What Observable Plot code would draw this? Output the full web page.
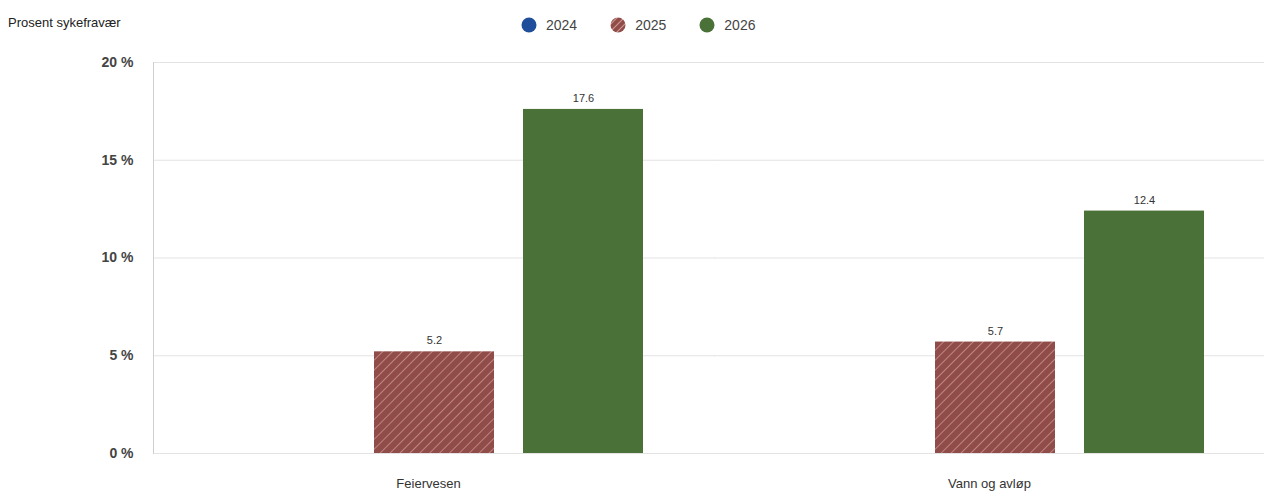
<!DOCTYPE html>
<html>
<head>
<meta charset="utf-8">
<script src="https://cdn.jsdelivr.net/npm/d3@7"></script>
<script src="https://cdn.jsdelivr.net/npm/@observablehq/plot@0.6"></script>
<style>
  html, body { margin: 0; padding: 0; background: #fff; }
  body { font-family: "Liberation Sans", Arial, sans-serif; }
  #wrap { position: relative; width: 1264px; height: 491px; }
  #title { position: absolute; left: 8px; top: 15px; font-size: 13px; color: #222; }
  #legend { position: absolute; left: 521px; top: 17px; display: flex; gap: 0; font-size: 14px; color: #444; }
  .item { display: flex; align-items: center; margin-right: 33px; }
  .item svg { margin-right: 9px; }
</style>
</head>
<body>
<div id="wrap">
  <div id="title">Prosent sykefravær</div>
  <div id="legend"></div>
  <div id="chart"></div>
</div>
<script>
const categories = ["Feiervesen", "Vann og avløp"];
const years = ["2024", "2025", "2026"];
const values2024 = [null, null];
const values2025 = [5.2, 5.7];
const values2026 = [17.6, 12.4];
const yTicks = [0, 5, 10, 15, 20];
const colors = ["#1f4e9a", "url(#hatch2025)", "#4a7138"];

const series = [values2024, values2025, values2026];
const data = [];
categories.forEach((c, i) => years.forEach((y, j) => data.push({category: c, year: y, value: series[j][i]})));
const bars = data.filter(d => d.value != null);

const chart = Plot.plot({
  width: 1264, height: 491,
  marginLeft: 152, marginRight: 0, marginTop: 62, marginBottom: 38,
  style: {fontFamily: "'Liberation Sans', Arial, sans-serif", background: "#fff", overflow: "hidden"},
  fx: {domain: categories, paddingInner: 0.02, paddingOuter: 0, label: null},
  x: {domain: years, paddingInner: 0.193, paddingOuter: 0.43, align: 0.543, axis: null},
  y: {domain: [0, 20], label: null},
  color: {domain: years, range: colors},
  marks: [
    Plot.ruleY(yTicks, {stroke: "#e3e3e3", insetRight: -12}),
    Plot.frame({anchor: "left", facetAnchor: "left", stroke: "#cfcfcf"}),
    Plot.axisY(yTicks, {tickSize: 0, tickPadding: 20, tickFormat: d => d + " %", fontSize: 14, fontWeight: "bold", fill: "#444", label: null}),
    Plot.axisFx({anchor: "bottom", tickSize: 0, tickPadding: 25, fontSize: 13, fill: "#333", label: null}),
    Plot.barY(bars, {fx: "category", x: "year", y: "value", fill: "year"}),
    Plot.text(bars, {fx: "category", x: "year", y: "value", text: d => d.value.toFixed(1), dy: -11, fontSize: 11, fill: "#333"})
  ]
});

const defs = d3.select(chart).insert("defs", ":first-child");
const pat = defs.append("pattern").attr("id", "hatch2025").attr("patternUnits", "userSpaceOnUse")
  .attr("width", 7).attr("height", 7).attr("patternTransform", "rotate(45)");
pat.append("rect").attr("width", 7).attr("height", 7).attr("fill", "#8f4c48");
pat.append("line").attr("x1", 0).attr("y1", 0).attr("x2", 0).attr("y2", 7).attr("stroke", "#e9b4b0").attr("stroke-width", 1.1);

document.getElementById("chart").appendChild(chart);

const legend = document.getElementById("legend");
years.forEach((y, i) => {
  const item = document.createElement("div");
  item.className = "item";
  item.innerHTML = `<svg width="16" height="16"><defs><pattern id="lh${i}" patternUnits="userSpaceOnUse" width="5" height="5" patternTransform="rotate(45)"><rect width="5" height="5" fill="#8f4c48"/><line x1="0" y1="0" x2="0" y2="5" stroke="#e9b4b0" stroke-width="1.5"/></pattern></defs><circle cx="8" cy="8" r="7.5" fill="${i === 1 ? "url(#lh1)" : colors[i]}"/></svg><span>${y}</span>`;
  legend.appendChild(item);
});
</script>
</body>
</html>
